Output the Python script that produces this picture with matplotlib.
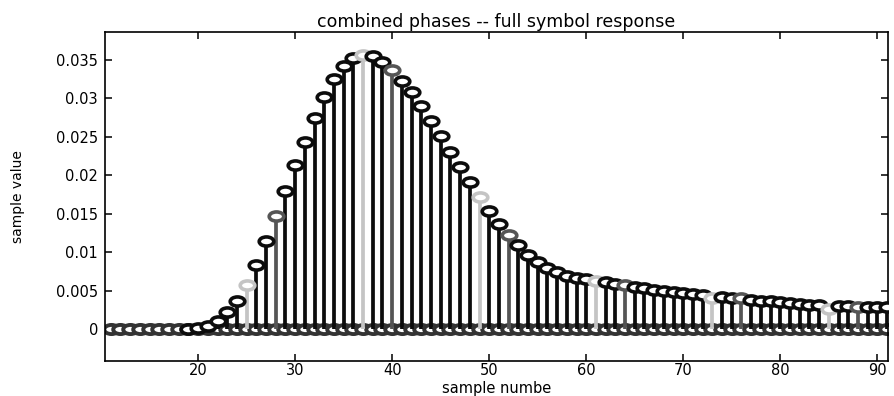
import numpy as np
import matplotlib
matplotlib.use("Agg")
import matplotlib.pyplot as plt
from matplotlib.path import Path
from matplotlib.transforms import Affine2D

# sample index and response value
samples = list(range(11, 92))
values = [
    0.0, 0.0, 0.0, 0.0, 0.0, 0.0, 0.0, 0.0, 0.00005,         # 11-19
    0.0001, 0.0004, 0.0011, 0.0022, 0.0037, 0.0057, 0.0084,  # 20-26
    0.0115, 0.0147, 0.0180, 0.0213, 0.0244, 0.0274, 0.0302,  # 27-33
    0.0325, 0.0342, 0.0352, 0.0356, 0.0355, 0.0347, 0.0337,  # 34-40
    0.0323, 0.0308, 0.0290, 0.0271, 0.0251, 0.0231, 0.0211,  # 41-47
    0.0191, 0.0172, 0.0154, 0.0137, 0.0122, 0.0109, 0.0097,  # 48-54
    0.0088, 0.0080, 0.0074, 0.0069, 0.0067, 0.0065, 0.0063,  # 55-61
    0.0061, 0.0059, 0.0057, 0.0055, 0.0053, 0.0051, 0.0050,  # 62-68
    0.0048, 0.0047, 0.0046, 0.0045, 0.0041, 0.0042, 0.0041,  # 69-75
    0.0040, 0.0038, 0.0037, 0.0036, 0.0035, 0.0034, 0.0033,  # 76-82
    0.0032, 0.0031, 0.0026, 0.0030, 0.0030, 0.0029, 0.0029,  # 83-89
    0.0029, 0.0029,                                          # 90-91
]
light_phase = [25, 37, 49, 61, 73, 85]
mid_phase = [28, 40, 52, 64, 76, 88]

xticks = [20, 30, 40, 50, 60, 70, 80, 90]
yticks = [0, 0.005, 0.01, 0.015, 0.02, 0.025, 0.03, 0.035]
ytick_labels = ["0", "0.005", "0.01", "0.015", "0.02", "0.025", "0.03", "0.035"]

# flattened circle, the scan is stretched sideways
ring = Path.unit_circle().transformed(Affine2D().scale(1.6, 1.0))

x = np.array(samples)
y = np.array(values)

fig = plt.figure(figsize=(8.94, 3.96), dpi=100)
ax = fig.add_axes([0.1174, 0.0891, 0.8759, 0.8293])

# every phase series carries zeros elsewhere -> circles along y=0
ax.plot(x, np.zeros_like(y), linestyle="none", marker=ring, markersize=10.5,
        mfc="white", mec="#333333", mew=2.8, zorder=2)

colors = []
for s in samples:
    if s in light_phase:
        colors.append("#c4c4c4")
    elif s in mid_phase:
        colors.append("#555555")
    else:
        colors.append("#0c0c0c")

for xi, yi, c in zip(x, y, colors):
    if yi <= 0.00002:
        continue
    ax.vlines(xi, 0, yi, color=c, linewidth=2.7, zorder=3)
    ax.plot([xi], [yi], linestyle="none", marker=ring, markersize=10.5,
            mfc="white", mec=c, mew=2.6, zorder=4)

ax.set_xlim(10.4, 91.1)
ax.set_ylim(-0.0041, 0.0386)
ax.set_xticks(xticks)
ax.set_yticks(yticks)
ax.set_yticklabels(ytick_labels)
ax.tick_params(direction="in", top=True, right=True, length=5, width=1.1,
               labelsize=10.5, pad=2)
ax.tick_params(axis="y", pad=5)
for sp in ax.spines.values():
    sp.set_linewidth(1.2)

ax.set_title("combined phases -- full symbol response", fontsize=12.5, pad=4)
ax.set_xlabel("sample numbe", fontsize=10.5)
ax.xaxis.set_label_coords(0.5, -0.063)
ax.set_ylabel("sample value", fontsize=10,
              family=["Liberation Sans Narrow", "DejaVu Sans"])
ax.yaxis.set_label_coords(-0.102, 0.5)

fig.savefig("out.png", dpi=100)
